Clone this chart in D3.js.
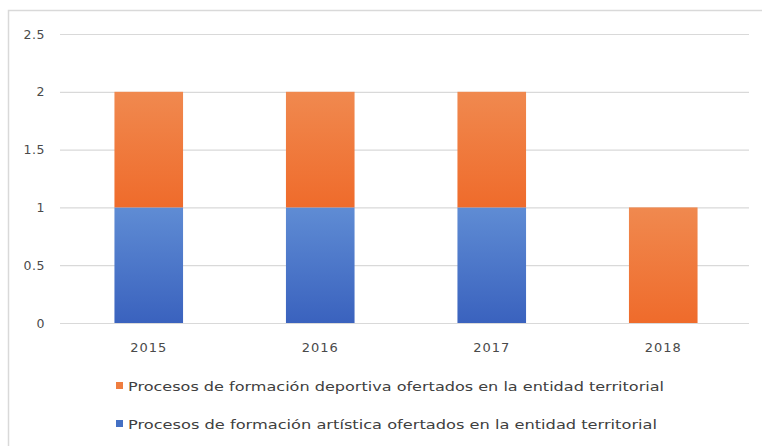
<!DOCTYPE html>
<html><head><meta charset="utf-8">
<script src="https://cdn.jsdelivr.net/npm/d3@7"></script>
<style>body{margin:0;background:#fff}svg{display:block}</style>
</head><body><svg id="c" width="762" height="446"></svg>
<script>
const categories = ["2015", "2016", "2017", "2018"];
const artistica = [1, 1, 1, 0];
const deportiva = [1, 1, 1, 1];
const yTicks = [0, 0.5, 1, 1.5, 2, 2.5];
const seriesNames = [
  "Procesos de formación deportiva ofertados en la entidad territorial",
  "Procesos de formación artística ofertados en la entidad territorial"
];

const svg = d3.select("#c");
const defs = svg.append("defs");
function grad(id, top, bot){
  const g = defs.append("linearGradient").attr("id", id).attr("x1",0).attr("y1",0).attr("x2",0).attr("y2",1);
  g.append("stop").attr("offset","0%").attr("stop-color",top);
  g.append("stop").attr("offset","100%").attr("stop-color",bot);
}
grad("gBlue", "#5F8CD4", "#3A62BE");
grad("gOrange", "#F0894F", "#EF6B2B");

const font = "DejaVu Sans, Verdana, sans-serif";

// frame (left & top)
svg.append("path").attr("d","M8.5,446 V10.5 H762").attr("fill","none").attr("stroke","#d9d9d9").attr("stroke-width",1.5);

const x = d3.scaleBand().domain(categories).range([63, 749]).paddingInner(0.6).paddingOuter(0.3);
const y = d3.scaleLinear().domain([0, 2.5]).range([323, 34]);

const yAxis = d3.axisLeft(y).tickValues(yTicks).tickSize(-(749-60)).tickFormat(d => String(d)).tickPadding(15);
const ga = svg.append("g").attr("transform","translate(60,0)").call(yAxis);
ga.select(".domain").remove();
ga.selectAll(".tick line").attr("stroke","#d9d9d9").attr("stroke-width",1.2);
ga.selectAll(".tick text").attr("fill","#4a4a4a").attr("font-family",font).attr("font-size",12.5)
  .attr("letter-spacing",0.5);

const xAxis = d3.axisBottom(x).tickSize(0).tickPadding(20);
const gx = svg.append("g").attr("transform","translate(0,323)").call(xAxis);
gx.select(".domain").remove();
gx.selectAll(".tick text").attr("fill","#4a4a4a").attr("font-family",font).attr("font-size",13)
  .attr("letter-spacing",1);

const stacked = d3.stack().keys(["a","d"])(categories.map((c,i)=>({cat:c,a:artistica[i],d:deportiva[i]})));
const fills = {a:"url(#gBlue)", d:"url(#gOrange)"};
stacked.forEach(s => {
  svg.append("g").selectAll("rect").data(s).join("rect")
    .attr("x", d => x(d.data.cat))
    .attr("width", x.bandwidth())
    .attr("y", d => y(d[1]))
    .attr("height", d => y(d[0]) - y(d[1]))
    .attr("fill", fills[s.key]);
});

// legend
const legColors = ["#EF7D3F", "#4470C4"];
const legLen = [536, 529];
const lg = svg.append("g");
seriesNames.forEach((n,i) => {
  const yy = 386 + i*38;
  lg.append("rect").attr("x",116).attr("y",yy-4).attr("width",7).attr("height",7).attr("fill",legColors[i]);
  lg.append("text").attr("x",128).attr("y",yy).attr("dy","0.35em").attr("fill","#404040")
    .attr("font-family",font).attr("font-size",13).attr("textLength",legLen[i]).attr("lengthAdjust","spacingAndGlyphs").text(n);
});
</script></body></html>
